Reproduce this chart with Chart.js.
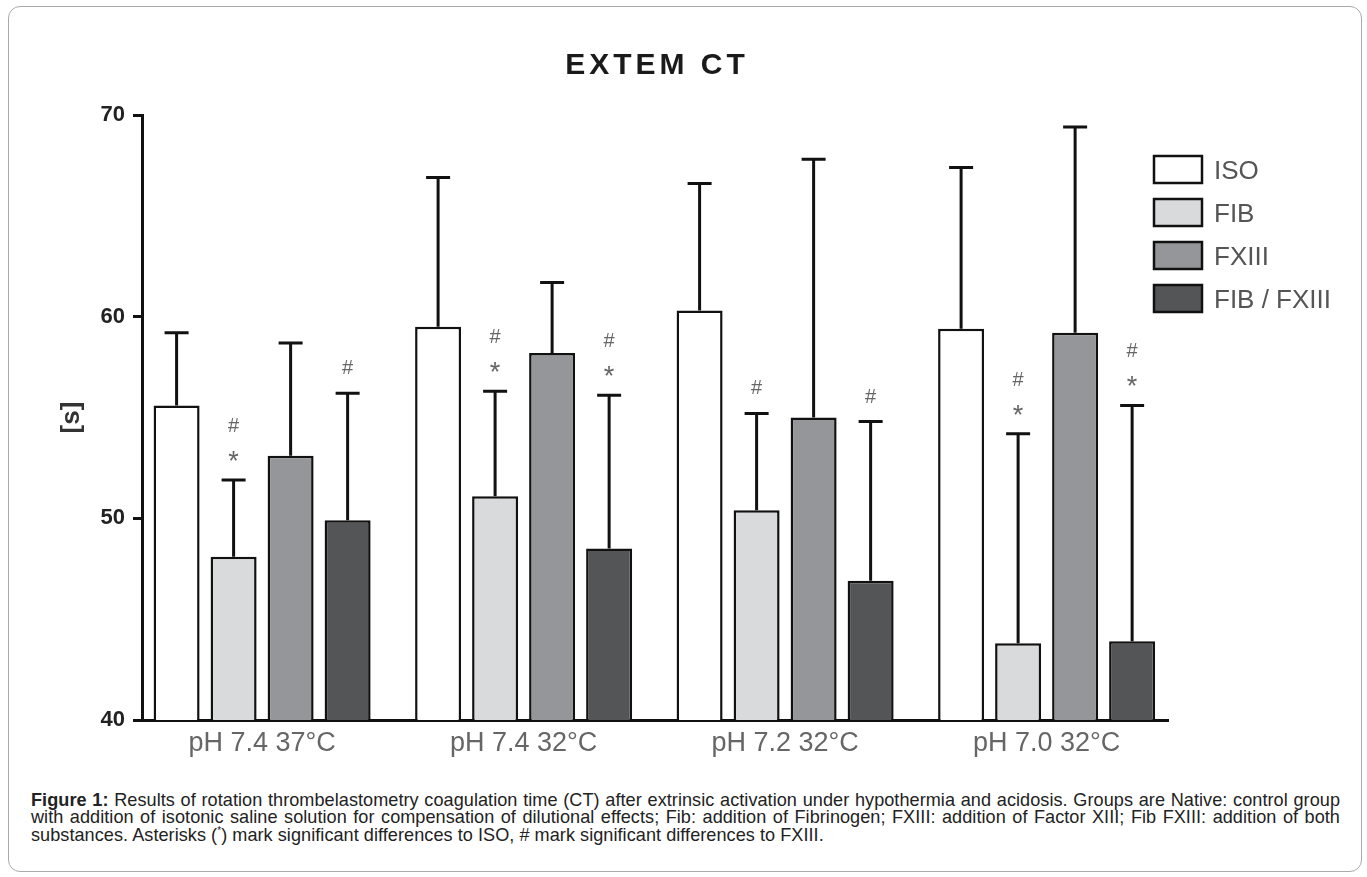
<!DOCTYPE html>
<html>
<head>
<meta charset="utf-8">
<script src="https://cdn.jsdelivr.net/npm/chart.js@4.4.1/dist/chart.umd.min.js"></script>
<style>
  html, body { margin: 0; padding: 0; background: #fff; }
  #wrap { position: relative; width: 1367px; height: 877px; overflow: hidden; }
  #frame { position: absolute; left: 8px; top: 6px; width: 1354px; height: 866px;
           border: 1px solid #aaaaaa; border-radius: 12px; box-sizing: border-box; }
  #chart { position: absolute; left: 0; top: 0; }
  #title { position: absolute; left: 142px; width: 1026px; top: 49px; text-align: center;
           font: bold 30px "Liberation Sans", Arial, sans-serif; line-height: 30px;
           letter-spacing: 4px; padding-left: 4px; box-sizing: border-box; color: #1a1a1a; }
  .cap { position: absolute; left: 31px; width: 1309px; letter-spacing: 0.05px;
         font: 18.1px "Liberation Sans", Arial, sans-serif; line-height: 17.4px; color: #222; }
  .cap .ln { text-align: justify; text-align-last: justify; white-space: nowrap; }
  .cap .ln.last { text-align: left; text-align-last: left; }
  sup { font-size: 10px; line-height: 0; }
</style>
</head>
<body>
<div id="wrap">
  <div id="frame"></div>
  <canvas id="chart" width="1367" height="780"></canvas>
  <div id="title">EXTEM CT</div>
  <div class="cap" style="top:792px">
    <div class="ln"><b>Figure 1:</b> Results of rotation thrombelastometry coagulation time (CT) after extrinsic activation under hypothermia and acidosis. Groups are Native: control group</div>
    <div class="ln">with addition of isotonic saline solution for compensation of dilutional effects; Fib: addition of Fibrinogen; FXIII: addition of Factor XIII; Fib FXIII: addition of both</div>
    <div class="ln last">substances. Asterisks (<sup>*</sup>) mark significant differences to ISO, # mark significant differences to FXIII.</div>
  </div>
</div>
<script>
// ---- data ----
const CATEGORIES = ['pH 7.4 37°C', 'pH 7.4 32°C', 'pH 7.2 32°C', 'pH 7.0 32°C'];
const SERIES = ['ISO', 'FIB', 'FXIII', 'FIB / FXIII'];
const ISO_MEAN   = [55.6, 59.5, 60.3, 59.4];
const ISO_SD     = [3.6, 7.4, 6.3, 8.0];
const FIB_MEAN   = [48.1, 51.1, 50.4, 43.8];
const FIB_SD     = [3.8, 5.2, 4.8, 10.4];
const FXIII_MEAN = [53.1, 58.2, 55.0, 59.2];
const FXIII_SD   = [5.6, 3.5, 12.8, 10.2];
const COMBO_MEAN = [49.9, 48.5, 46.9, 43.9];
const COMBO_SD   = [6.3, 7.6, 7.9, 11.7];
// significance marks: '*' vs ISO, '#' vs FXIII
const FIB_STAR    = [true, true, false, true];
const FIB_HASH    = [true, true, true, true];
const COMBO_STAR  = [false, true, false, true];
const COMBO_HASH  = [true, true, true, true];
const Y_TICKS = [40, 50, 60, 70];

const COLORS = ['#ffffff', '#d9dadc', '#959699', '#545557'];
const MEANS = [ISO_MEAN, FIB_MEAN, FXIII_MEAN, COMBO_MEAN];
const SDS = [ISO_SD, FIB_SD, FXIII_SD, COMBO_SD];
const STARS = [null, FIB_STAR, null, COMBO_STAR];
const HASHES = [null, FIB_HASH, null, COMBO_HASH];

const datasets = SERIES.map((name, s) => ({
  label: name,
  data: MEANS[s].map((v, i) => ({ x: i, y: v })),
  sd: SDS[s],
  star: STARS[s],
  hash: HASHES[s],
  backgroundColor: COLORS[s],
  borderColor: '#111',
  borderWidth: 2.5,
  borderSkipped: 'start',
  categoryPercentage: 0.872,
  barPercentage: 0.807
}));

const errorBars = {
  id: 'errorBars',
  afterDatasetsDraw(chart) {
    const ctx = chart.ctx, y = chart.scales.y;
    ctx.save();
    chart.data.datasets.forEach((ds, di) => {
      const meta = chart.getDatasetMeta(di);
      meta.data.forEach((el, i) => {
        const top = y.getPixelForValue(ds.data[i].y + ds.sd[i]);
        ctx.strokeStyle = '#111';
        ctx.lineWidth = 3;
        ctx.lineCap = 'butt';
        ctx.beginPath();
        ctx.moveTo(el.x, el.y);
        ctx.lineTo(el.x, top);
        ctx.moveTo(el.x - 12, top);
        ctx.lineTo(el.x + 12, top);
        ctx.stroke();
        ctx.fillStyle = '#666';
        ctx.textAlign = 'center';
        ctx.textBaseline = 'alphabetic';
        let cy = top;
        if (ds.star && ds.star[i]) {
          cy = top - 25;
          ctx.font = '27px "Liberation Sans", Arial, sans-serif';
          ctx.fillText('*', el.x, cy + 15);
          cy = cy - 30;
        } else {
          cy = top - 26;
        }
        if (ds.hash && ds.hash[i]) {
          ctx.font = '20px "Liberation Sans", Arial, sans-serif';
          ctx.fillText('#', el.x, cy + 7);
        }
      });
    });
    ctx.restore();
  }
};

const legendBoxes = {
  id: 'legendBoxes',
  afterDraw(chart) {
    const ctx = chart.ctx;
    ctx.save();
    chart.data.datasets.forEach((ds, i) => {
      const bx = 1154, by = 156 + i * 43, bw = 48, bh = 27;
      ctx.fillStyle = ds.backgroundColor;
      ctx.fillRect(bx, by, bw, bh);
      ctx.strokeStyle = '#111';
      ctx.lineWidth = 2.5;
      ctx.strokeRect(bx, by, bw, bh);
      ctx.fillStyle = '#555';
      ctx.font = '26px "Liberation Sans", Arial, sans-serif';
      ctx.textAlign = 'left';
      ctx.textBaseline = 'alphabetic';
      ctx.fillText(ds.label, 1214, by + bh / 2 + 9.5);
    });
    ctx.restore();
  }
};

new Chart(document.getElementById('chart'), {
  type: 'bar',
  data: { datasets },
  options: {
    responsive: false,
    animation: false,
    devicePixelRatio: 1,
    layout: { padding: { left: 0, right: 199, top: 115, bottom: 0 } },
    plugins: { legend: { display: false }, tooltip: { enabled: false }, title: { display: false } },
    scales: {
      x: {
        type: 'linear',
        offset: false,
        min: -0.4593,
        max: 3.4642,
        afterBuildTicks(scale) { scale.ticks = CATEGORIES.map((c, i) => ({ value: i })); },
        afterFit(scale) { scale.height = 60; },
        grid: { display: true, offset: false, drawOnChartArea: false, drawTicks: false, color: 'rgba(0,0,0,0)' },
        border: { display: true, color: '#111', width: 3 },
        ticks: {
          padding: 7,
          autoSkip: false,
          maxRotation: 0,
          color: '#666',
          font: { family: '"Liberation Sans", Arial, sans-serif', size: 27 },
          callback: (v) => CATEGORIES[v]
        }
      },
      y: {
        min: 40,
        max: 70,
        afterBuildTicks(scale) { scale.ticks = Y_TICKS.map(v => ({ value: v })); },
        afterFit(scale) { scale.width = 142; },
        grid: { display: true, drawOnChartArea: false, drawTicks: true, tickLength: 9, color: '#111', lineWidth: 3 },
        border: { display: true, color: '#111', width: 3 },
        ticks: {
          padding: 8,
          color: '#222',
          font: { family: '"Liberation Sans", Arial, sans-serif', size: 22, weight: 'bold' }
        },
        title: {
          display: true,
          text: '[s]',
          color: '#333',
          padding: { top: 56, bottom: 0 },
          font: { family: '"Liberation Sans", Arial, sans-serif', size: 26, weight: 'bold' }
        }
      }
    }
  },
  plugins: [errorBars, legendBoxes]
});
</script>
</body>
</html>
